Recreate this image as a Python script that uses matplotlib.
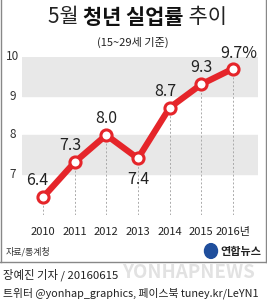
import matplotlib.pyplot as plt
from matplotlib.lines import Line2D

plt.rcParams['font.family'] = ['Noto Sans CJK KR', 'DejaVu Sans']

years = [2010, 2011, 2012, 2013, 2014, 2015, 2016]
rates = [6.4, 7.3, 8.0, 7.4, 8.7, 9.3, 9.7]
xlabels = ['2010', '2011', '2012', '2013', '2014', '2015', '2016년']
value_labels = ['6.4', '7.3', '8.0', '7.4', '8.7', '9.3', '9.7%']
# label offsets in points (dx, dy)
offsets = [(-4, 12), (-3, 12), (0, 12), (0, -15), (-3, 12), (0, 12), (4, 11)]

red = '#e5252a'
W, H = 267, 303
fig = plt.figure(figsize=(W / 100, H / 100), dpi=100)

ax = fig.add_axes([22 / W, 1 - 215 / H, 236 / W, 158 / H])
ax.set_xlim(2009.34, 2016.79)
ax.set_ylim(5.95, 10.0)
ax.axhspan(9, 10, color='#e8e8e8', zorder=0)
ax.axhspan(7, 8, color='#e8e8e8', zorder=0)

for x, y in zip(years, rates):
    ax.plot([x, x], [5.95, y], color='#aaaaaa', lw=0.7, ls=(0, (2, 2)), zorder=1)

ax.plot(years, rates, color=red, lw=4.5, marker='o', markersize=8,
        markerfacecolor='white', markeredgecolor=red, markeredgewidth=2.2, zorder=3,
        solid_capstyle='round')

for x, y, t, (dx, dy) in zip(years, rates, value_labels, offsets):
    ax.annotate(t, (x, y), textcoords='offset points', xytext=(dx, dy),
                ha='center', va='center', fontsize=11.5, color='#222222')

for s in ax.spines.values():
    s.set_visible(False)
ax.set_xticks([])
ax.set_yticks([])

# y tick labels
for v in [10, 9, 8, 7]:
    fig.text(13 / W, 1 - (57 + (10 - v) * 39) / H, str(v), ha='center', va='center',
             fontsize=8.5, color='#333333')

# x tick labels
for x, t in zip(years, xlabels):
    px = 22 + (x - 2009.34) / (2016.79 - 2009.34) * 236
    fig.text(px / W, 1 - 232 / H, t, ha='center', va='center', fontsize=8, color='#222222')

# title (mixed weights)
ty = 1 - 17 / H
t1 = fig.text(48 / W, ty, '5월 ', ha='left', va='center', fontsize=15, color='#222222')
fig.canvas.draw()
r = fig.canvas.get_renderer()
bb = t1.get_window_extent(r)
t2 = fig.text(bb.x1 / W, ty, '청년 실업률', ha='left', va='center', fontsize=15,
              fontweight='bold', color='#111111')
bb2 = t2.get_window_extent(r)
fig.text(bb2.x1 / W, ty, ' 추이', ha='left', va='center', fontsize=15, color='#222222')
fig.text(133 / W, 1 - 42 / H, '(15~29세 기준)', ha='center', va='center', fontsize=8, color='#222222')

# frame
fig.add_artist(Line2D([1 / W, 1 / W], [1, 1 - 262 / H], color='#888888', lw=1))
fig.add_artist(Line2D([(W - 1) / W, (W - 1) / W], [1, 1 - 262 / H], color='#888888', lw=1))
fig.add_artist(Line2D([0, 1], [1 - 262 / H, 1 - 262 / H], color='#888888', lw=1))

# source and logo
fig.text(6 / W, 1 - 252 / H, '자료/통계청', ha='left', va='center', fontsize=6.5, color='#333333')
fig.text(261 / W, 1 - 251 / H, '연합뉴스', ha='right', va='center', fontsize=8,
         fontweight='bold', color='#222222')
fig.add_artist(plt.Circle((211 / W, 1 - 251 / H), 6.5 / W, transform=fig.transFigure,
                          color='#1f4e9c'))

# watermark and credits
fig.text(122 / W, 1 - 272 / H, 'YONHAPNEWS', ha='left', va='center', fontsize=13.5,
         fontweight='bold', color='#e2e2e2', fontstyle='italic', zorder=0)
fig.text(3 / W, 1 - 275 / H, '장예진 기자 / 20160615', ha='left', va='center', fontsize=8.2,
         color='#222222')
fig.text(3 / W, 1 - 293 / H, '트위터 @yonhap_graphics, 페이스북 tuney.kr/LeYN1', ha='left',
         va='center', fontsize=7.8, color='#222222')

fig.savefig('out.png', dpi=100)
